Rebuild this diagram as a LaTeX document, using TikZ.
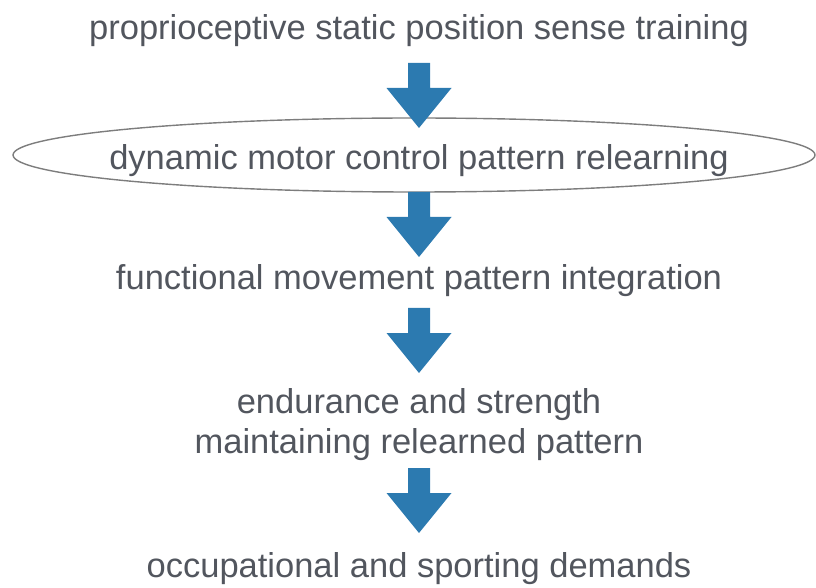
\documentclass[tikz,border=0pt]{standalone}
\usepackage{fontspec}
\setmainfont{Liberation Sans}
\definecolor{txtgray}{RGB}{82,86,94}
\definecolor{arrowblue}{RGB}{44,122,176}
\definecolor{linegray}{RGB}{125,125,125}
\tikzset{
  lbl/.style={text=txtgray, font=\fontsize{34.5}{40}\selectfont, inner sep=0pt, anchor=base, align=center},
  blockarrow/.pic={\fill[arrowblue] (-11,0) -- (11,0) -- (11,-25) -- (32.5,-25) -- (0,-65) -- (-32.5,-25) -- (-11,-25) -- cycle;}
}
\begin{document}
\begin{tikzpicture}[x=1pt,y=1pt]
\useasboundingbox (0,0) rectangle (816,587);
\draw[linegray, line width=1.4pt] (414,432) ellipse [x radius=401, y radius=37];
\node[lbl] (t1) at (419,547) {proprioceptive static position sense training};
\node[lbl] (t2) at (419,417) {dynamic motor control pattern relearning};
\node[lbl] (t3) at (419,297) {functional movement pattern integration};
\node[lbl] (t4) at (419,134) {endurance and strength\\maintaining relearned pattern};
\node[lbl] (t5) at (419,10) {occupational and sporting demands};
\coordinate (a1) at (419,524);
\coordinate (a2) at (419,395);
\coordinate (a3) at (419,279);
\coordinate (a4) at (419,119);
\pic at (a1) {blockarrow};
\pic at (a2) {blockarrow};
\pic at (a3) {blockarrow};
\pic at (a4) {blockarrow};
\end{tikzpicture}
\end{document}
